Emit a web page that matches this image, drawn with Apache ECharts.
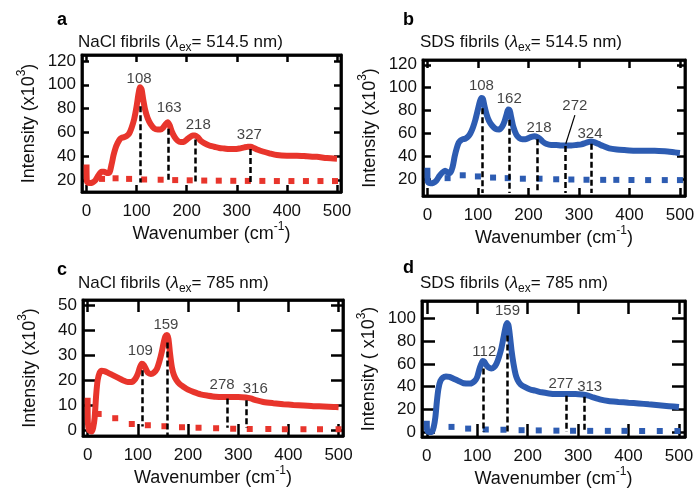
<!DOCTYPE html>
<html>
<head>
<meta charset="utf-8">
<script src="https://cdn.jsdelivr.net/npm/echarts@6/dist/echarts.min.js"></script>
<style>
html,body{margin:0;padding:0;background:#fff}
#main{width:696px;height:489px}
</style>
</head>
<body>
<div id="main"></div>
<script>
var FONT = '"Liberation Sans", Arial, sans-serif';
var RED = '#e8352c';
var BLUE = '#2d5cb2';
var INK = '#111';

var xTicks = [0, 100, 200, 300, 400, 500];

// a : NaCl fibrils, 514.5 nm
var aX = [0, 0.5, 2, 6, 12, 18, 24, 30, 35, 40, 45, 50, 54, 58, 62, 66, 70, 75, 80, 85, 90, 95, 100, 104, 107, 110, 113, 117, 122, 128, 135, 142, 148, 153, 158, 162, 166, 170, 176, 182, 188, 194, 200, 206, 212, 217, 222, 228, 235, 245, 255, 265, 275, 285, 295, 305, 315, 322, 328, 334, 342, 352, 365, 380, 400, 420, 440, 460, 480, 500];
var aY = [33, 20, 18, 17.5, 18, 20, 24, 27, 27, 26, 26, 33, 41, 47, 51, 54, 55.5, 56, 57, 59, 64, 71, 82, 93, 98, 96, 88, 79, 72, 67, 63.5, 62.5, 62.5, 64, 67, 68.5, 66, 61, 56, 53, 52, 52, 54, 56, 57.5, 57.5, 56, 53, 51, 49, 48, 47, 46.5, 46, 46, 46.5, 47.5, 48, 48, 47, 45.5, 44, 42.5, 41, 40.5, 40.5, 40, 39.5, 38.5, 38];
var aBaseX = [31, 58, 85, 115, 148, 177, 206, 235, 264, 293, 322, 351, 380, 409, 438, 467, 496];
var aBaseY = [21, 21.5, 21, 20.5, 20.3, 20, 19.8, 19.6, 19.5, 19.4, 19.3, 19.3, 19.2, 19.2, 19.2, 19.2, 19.2];
var aPeaks = [108, 163, 218, 327];
var aLabelX = [105, 165, 223, 325];
var aLabelY = [105, 80.5, 66.4, 58];
var aLineTop = [82, 63, 54, 46];
var aLineBottom = [18, 18, 18, 18];
var aYTicks = [20, 40, 60, 80, 100, 120];

// b : SDS fibrils, 514.5 nm
var bX = [0, 0.5, 2, 6, 12, 18, 24, 30, 35, 40, 45, 50, 54, 58, 62, 66, 70, 75, 80, 85, 90, 95, 100, 104, 107, 110, 113, 117, 122, 128, 135, 142, 148, 153, 157, 160, 163, 166, 170, 176, 182, 188, 194, 200, 206, 212, 217, 222, 228, 235, 245, 255, 265, 275, 285, 295, 305, 312, 318, 324, 330, 338, 348, 360, 375, 390, 410, 430, 450, 470, 490, 500];
var bY = [30, 19, 17, 16.5, 17, 19, 23, 26, 27.5, 26, 25.5, 31, 40, 47, 52, 54, 55, 55.5, 57, 60, 65, 72, 81, 88, 91, 90, 84, 77, 71, 67, 64, 63.5, 66, 71, 77, 81, 80, 74, 66, 59, 56, 55, 55, 56, 57, 57.5, 57, 55.5, 53, 51, 50, 50, 49.5, 49.5, 49.5, 50, 50.5, 51.5, 52.5, 53, 52.5, 51, 49, 47, 46, 45.5, 45, 45, 45, 44.5, 43.5, 43];
var bBaseX = [40, 70, 100, 130, 159, 189, 222, 255, 285, 315, 348, 374, 404, 437, 470, 500];
var bBaseY = [21, 23.5, 22.5, 21.5, 21, 20.5, 20.5, 20, 19.8, 19.6, 19.5, 19.5, 19.4, 19.3, 19.3, 19.3];
var bPeaks = [108, 162, 218, 272, 324];
var bLabelX = [107, 162, 221, 292, 322];
var bLabelY = [101.5, 90, 65, 84, 60];
var bLineTop = [82, 72, 55, 49, 51];
var bLineBottom = [8, 8, 8, 8, 8];
var bLeader = [[292, 76], [274, 51]];
var bYTicks = [20, 40, 60, 80, 100, 120];

// c : NaCl fibrils, 785 nm
var cX = [0, 0.5, 3, 8, 11, 14, 17, 20, 24, 28, 33, 40, 50, 60, 70, 80, 88, 95, 100, 104, 108, 112, 116, 120, 126, 132, 138, 143, 148, 152, 155, 158, 161, 164, 168, 172, 177, 183, 190, 200, 212, 225, 240, 255, 270, 285, 300, 315, 325, 335, 350, 370, 390, 410, 430, 450, 470, 490, 500];
var cY = [13, 3, 0, -0.5, 1, 5, 14, 20, 23, 23.8, 23.6, 23, 22, 21, 20, 19.3, 19.3, 20.5, 22.5, 25, 26.5, 26, 24.5, 23, 22.5, 23, 24.5, 27.5, 31.5, 35.5, 37.5, 38, 36.5, 31, 25, 22, 20, 18.5, 17.5, 16.2, 15.2, 14.3, 13.8, 13.4, 13.3, 13.3, 13.3, 13.1, 12.7, 12, 11.3, 10.8, 10.4, 10.1, 9.9, 9.6, 9.5, 9.3, 9.2];
var cBaseX = [22, 55, 88, 120, 153, 188, 221, 256, 290, 323, 360, 393, 430, 463, 500];
var cBaseY = [6.5, 4.8, 2.5, 2, 1.6, 1.2, 1.0, 0.8, 0.6, 0.5, 0.5, 0.4, 0.4, 0.4, 0.4];
var cPeaks = [109, 159, 278, 316];
var cLabelX = [105, 156, 268, 334];
var cLabelY = [31.6, 42, 18, 16.4];
var cLineTop = [24, 35, 12.7, 12];
var cLineBottom = [1.5, -2.3, 1, 1];
var cYTicks = [0, 10, 20, 30, 40, 50];

// d : SDS fibrils, 785 nm
var dX = [0, 0.5, 4, 10, 14, 17, 20, 23, 27, 32, 38, 45, 53, 63, 73, 86, 95, 100, 104, 108, 111, 114, 118, 122, 128, 133, 138, 143, 148, 152, 156, 159, 162, 165, 168, 172, 176, 180, 186, 195, 205, 215, 228, 242, 255, 268, 282, 295, 308, 320, 330, 345, 360, 380, 400, 420, 440, 460, 480, 500];
var dY = [10, 2, 0, 0, 5, 13, 27, 38, 45, 48, 49, 48.5, 47, 45, 43, 42.7, 45, 48.5, 55, 60, 62.5, 62, 59, 57, 56, 57, 60, 66, 74, 83, 92, 96, 94, 84, 72, 60, 51, 46, 42, 39.5, 37.5, 36.5, 35, 34, 33.5, 33.5, 33.5, 33.5, 33, 32, 30.5, 28.5, 27.3, 26.5, 25.8, 25.2, 24.4, 23.6, 22.8, 22];
var dBaseX = [49, 82, 117, 152, 188, 222, 257, 290, 324, 359, 392, 427, 462, 497];
var dBaseY = [4.5, 3, 2.2, 2, 1.6, 1.4, 1.2, 1.1, 1, 1, 1, 0.9, 0.9, 0.9];
var dPeaks = [112, 159, 277, 313];
var dLabelX = [114, 160, 266, 323];
var dLabelY = [71, 106.4, 42.7, 39.7];
var dLineTop = [56, 85, 32, 31];
var dLineBottom = [0, 0, 0, 0];
var dYTicks = [0, 20, 40, 60, 80, 100];

var panels = [
  {letter: 'a', sample: 'NaCl', lambda: '514.5', color: RED, x: aX, y: aY, bx: aBaseX, by: aBaseY,
   peaks: aPeaks, lx: aLabelX, ly: aLabelY, top: aLineTop, bottom: aLineBottom, yTicks: aYTicks,
   grid: {left: 82, top: 55, width: 259, height: 137}, xr: [-9, 508], yr: [10, 125], tick: 7,
   yName: 'Intensity (x10', letterPos: [57, 20], titlePos: [78, 42]},
  {letter: 'b', sample: 'SDS', lambda: '514.5', color: BLUE, x: bX, y: bY, bx: bBaseX, by: bBaseY,
   peaks: bPeaks, lx: bLabelX, ly: bLabelY, top: bLineTop, bottom: bLineBottom, yTicks: bYTicks,
   grid: {left: 423, top: 60, width: 262, height: 136}, xr: [-8.7, 510], yr: [5.4, 124.2], tick: 8,
   yName: 'Intensity (x10', letterPos: [403, 20], titlePos: [420, 42], leader: bLeader},
  {letter: 'c', sample: 'NaCl', lambda: '785', color: RED, x: cX, y: cY, bx: cBaseX, by: cBaseY,
   peaks: cPeaks, lx: cLabelX, ly: cLabelY, top: cLineTop, bottom: cLineBottom, yTicks: cYTicks,
   grid: {left: 83, top: 300, width: 260, height: 136}, xr: [-9.2, 508.8], yr: [-2.3, 52], tick: 12,
   yName: 'Intensity (x10', letterPos: [57, 270], titlePos: [78, 283]},
  {letter: 'd', sample: 'SDS', lambda: '785', color: BLUE, x: dX, y: dY, bx: dBaseX, by: dBaseY,
   peaks: dPeaks, lx: dLabelX, ly: dLabelY, top: dLineTop, bottom: dLineBottom, yTicks: dYTicks,
   grid: {left: 422, top: 301, width: 263, height: 136}, xr: [-9.5, 512], yr: [-4.4, 115.5], tick: 13,
   yName: 'Intensity ( x10', letterPos: [403, 268], titlePos: [420, 283]}
];

var richName = {
  n: {fontFamily: FONT, fontSize: 18, color: INK, lineHeight: 26},
  s: {fontFamily: FONT, fontSize: 12, color: INK, verticalAlign: 'top'}
};

function buildOption() {
  var grids = [], xAxes = [], yAxes = [], series = [], graphics = [];
  panels.forEach(function (p, i) {
    grids.push({left: p.grid.left, top: p.grid.top, width: p.grid.width, height: p.grid.height,
      outerBoundsMode: 'none', containLabel: false,
      show: true, borderColor: '#000', borderWidth: 2.5, backgroundColor: 'rgba(255,255,255,0)'});
    var frame = {show: true, onZero: false, lineStyle: {color: '#000', width: 2.5}};
    var tickStyle = {show: true, inside: true, length: p.tick, lineStyle: {color: '#000', width: 2.5}};
    // bottom + top x axes, left + right y axes -> closed frame with inner ticks
    xAxes.push({type: 'value', gridIndex: i, position: 'bottom', min: p.xr[0], max: p.xr[1],
      axisLine: frame, splitLine: {show: false},
      axisTick: Object.assign({customValues: xTicks}, tickStyle),
      axisLabel: {customValues: xTicks, margin: 11, fontFamily: FONT, fontSize: 17, color: INK},
      name: '{n|Wavenumber (cm}{s|-1}{n|)}', nameLocation: 'middle', nameGap: 28,
      nameTextStyle: {rich: richName}});
    xAxes.push({type: 'value', gridIndex: i, position: 'top', min: p.xr[0], max: p.xr[1],
      axisLine: frame, splitLine: {show: false},
      axisLabel: {show: false, customValues: xTicks},
      axisTick: Object.assign({customValues: xTicks}, tickStyle)});
    yAxes.push({type: 'value', gridIndex: i, position: 'left', min: p.yr[0], max: p.yr[1],
      axisLine: frame, splitLine: {show: false},
      axisTick: Object.assign({customValues: p.yTicks}, tickStyle),
      axisLabel: {customValues: p.yTicks, margin: 6, fontFamily: FONT, fontSize: 17, color: INK},
      name: '{n|' + p.yName + '}{s|3}{n|)}', nameLocation: 'middle', nameRotate: 90, nameGap: 40,
      nameTextStyle: {rich: richName}});
    yAxes.push({type: 'value', gridIndex: i, position: 'right', min: p.yr[0], max: p.yr[1],
      axisLine: frame, splitLine: {show: false},
      axisLabel: {show: false, customValues: p.yTicks},
      axisTick: Object.assign({customValues: p.yTicks}, tickStyle)});

    var curve = p.x.map(function (x, k) { return [x, p.y[k]]; });
    var base = p.bx.map(function (x, k) { return [x, p.by[k]]; });
    series.push({type: 'line', xAxisIndex: 2 * i, yAxisIndex: 2 * i, data: base, showSymbol: true,
      symbol: 'rect', symbolSize: 6, lineStyle: {width: 0, opacity: 0}, itemStyle: {color: p.color},
      silent: true, animation: false, z: 2});
    series.push({type: 'line', xAxisIndex: 2 * i, yAxisIndex: 2 * i, data: curve, showSymbol: false,
      smooth: 0.25, lineStyle: {color: p.color, width: 6}, silent: true, animation: false, z: 3});

    var lines = p.peaks.map(function (pk, k) {
      return [{coord: [pk, p.top[k]]}, {coord: [pk, p.bottom[k]]}];
    });
    if (p.leader) {
      lines.push([{coord: p.leader[0], lineStyle: {type: 'solid', width: 1.2}}, {coord: p.leader[1]}]);
    }
    var labels = p.peaks.map(function (pk, k) { return [p.lx[k], p.ly[k], String(pk)]; });
    series.push({type: 'scatter', xAxisIndex: 2 * i, yAxisIndex: 2 * i, data: labels, symbolSize: 0,
      silent: true, animation: false, z: 4,
      label: {show: true, position: 'inside', formatter: function (d) { return d.value[2]; },
        fontFamily: FONT, fontSize: 15, color: INK, textBorderWidth: 0},
      markLine: {silent: true, symbol: 'none', animation: false, label: {show: false},
        lineStyle: {color: '#000', type: [6, 3], width: 2.5}, data: lines}});

    // plot frame
    graphics.push({type: 'rect', z: 100, silent: true,
      shape: {x: p.grid.left, y: p.grid.top, width: p.grid.width, height: p.grid.height},
      style: {fill: 'rgba(0,0,0,0)', stroke: '#000', lineWidth: 2.5}});
    graphics.push({type: 'text', x: p.letterPos[0], y: p.letterPos[1],
      style: {text: p.letter, font: 'bold 18px ' + FONT, fill: '#000', verticalAlign: 'middle'}});
    graphics.push({type: 'text', x: p.titlePos[0], y: p.titlePos[1],
      style: {text: '{n|' + p.sample + ' fibrils (}{l|λ}{b|ex}{n|= ' + p.lambda + ' nm)}',
        verticalAlign: 'middle',
        rich: {
          n: {fontFamily: FONT, fontSize: 17, fill: INK, lineHeight: 24},
          l: {fontFamily: FONT, fontSize: 17, fontStyle: 'italic', fill: INK},
          b: {fontFamily: FONT, fontSize: 12, fill: INK, verticalAlign: 'bottom'}
        }}});
  });
  return {animation: false, backgroundColor: '#fff', grid: grids, xAxis: xAxes, yAxis: yAxes,
    series: series, graphic: graphics};
}

var chart = echarts.init(document.getElementById('main'), null, {renderer: 'canvas'});
chart.setOption(buildOption());
</script>
</body>
</html>
